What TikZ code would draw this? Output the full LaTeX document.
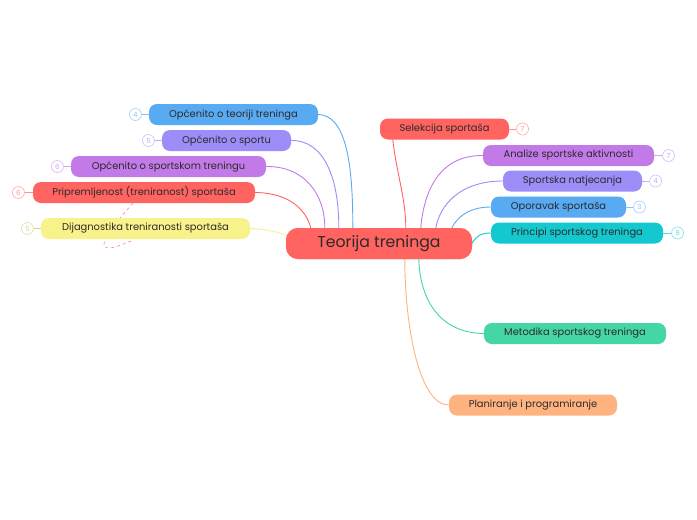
\documentclass[tikz,border=0pt]{standalone}
\usepackage{fontspec}
\setmainfont{Poppins}
\usepackage{xcolor}
\usetikzlibrary{positioning}

\definecolor{rootred}{HTML}{FF6461}
\definecolor{tblue}{HTML}{58AAF3}
\definecolor{tlav}{HTML}{9D8DF8}
\definecolor{tpurple}{HTML}{C27AE8}
\definecolor{tyellow}{HTML}{F8F28A}
\definecolor{tcyan}{HTML}{14C8CF}
\definecolor{tgreen}{HTML}{45D6A5}
\definecolor{torange}{HTML}{FFB380}
\definecolor{ttext}{HTML}{2B2B2B}

\begin{document}
\begin{tikzpicture}[x=1pt, y=-1pt,
            topic/.style={rectangle, rounded corners=8pt, minimum height=21pt, inner sep=0pt, text=ttext, font=\fontsize{9.9}{11}\selectfont},
            root/.style={rectangle, rounded corners=12pt, fill=rootred, minimum width=186pt, minimum height=31pt, text=ttext, font=\fontsize{15.7}{17}\selectfont},
            badge/.style={circle, draw=#1!50, fill=white, text=#1!70, line width=0.7pt, minimum size=12pt, inner sep=0pt, font=\fontsize{7}{8}\selectfont},
            link/.style={line width=0.9pt, #1},
            tick/.style={line width=0.9pt, #1!70}]

            \useasboundingbox[fill=white] (0,0) rectangle (697,520);

            % Root
            \node (root) [root] at (379,243.5) {Teorija treninga};

            % Left topics
            \node (teorija) [topic, fill=tblue, minimum width=169pt] at (233.5,114.5) {Općenito o teoriji treninga};
            \node (sport) [topic, fill=tlav, minimum width=129pt] at (226.5,140.5) {Općenito o sportu};
            \node (trening) [topic, fill=tpurple, minimum width=195pt] at (168.5,166.5) {Općenito o sportskom treningu};
            \node (priprem) [topic, fill=rootred, minimum width=222pt] at (144,192.5) {Pripremljenost (treniranost) sportaša};

            % dashed relation, behind the yellow topic
            \draw [rootred!80, dashed, line width=0.6pt] ([xshift=100pt]priprem.south west) .. controls (105,235) and (85,262) .. (133,240);

            \node (dijag) [topic, fill=tyellow, minimum width=209pt] at (145.5,228.5) {Dijagnostika treniranosti sportaša};

            % Right topics
            \node (selek) [topic, fill=rootred, minimum width=129pt] at (444.5,129) {Selekcija sportaša};
            \node (analize) [topic, fill=tpurple, minimum width=171pt] at (568.5,155.5) {Analize sportske aktivnosti};
            \node (natjec) [topic, fill=tlav, minimum width=139pt] at (572.5,181) {Sportska natjecanja};
            \node (oporavak) [topic, fill=tblue, minimum width=135pt] at (558.5,207) {Oporavak sportaša};
            \node (principi) [topic, fill=tcyan, minimum width=172pt] at (577,233) {Principi sportskog treninga};
            \node (metodika) [topic, fill=tgreen, minimum width=182pt] at (575,333.5) {Metodika sportskog treninga};
            \node (plan) [topic, fill=torange, minimum width=168pt] at (533,405) {Planiranje i programiranje};

            % Badges
            \node (b1) [badge=tblue, left=7pt of teorija] {4};
            \node (b2) [badge=tlav, left=7pt of sport] {5};
            \node (b3) [badge=tpurple, left=7pt of trening] {6};
            \node (b4) [badge=rootred, left=8pt of priprem] {6};
            \node (b5) [badge=tyellow!80!black, left=7pt of dijag] {5};
            \node (b6) [badge=rootred, right=7pt of selek] {7};
            \node (b7) [badge=tpurple, right=8pt of analize] {7};
            \node (b8) [badge=tlav, right=7pt of natjec] {4};
            \node (b9) [badge=tblue, right=7pt of oporavak] {3};
            \node (b10) [badge=tcyan, right=8pt of principi] {9};

            \draw [tick=tblue] (b1) -- (teorija);
            \draw [tick=tlav] (b2) -- (sport);
            \draw [tick=tpurple] (b3) -- (trening);
            \draw [tick=rootred] (b4) -- (priprem);
            \draw [tick=tyellow!80!black] (b5) -- (dijag);
            \draw [tick=rootred] (selek) -- (b6);
            \draw [tick=tpurple] (analize) -- (b7);
            \draw [tick=tlav] (natjec) -- (b8);
            \draw [tick=tblue] (oporavak) -- (b9);
            \draw [tick=tcyan] (principi) -- (b10);

            % Branches
            \draw [link=tblue] (teorija.east) .. controls (345,115) and (353,160) .. ([xshift=67pt]root.north west);
            \draw [link=tlav] (sport.east) .. controls (325,140) and (339,180) .. ([xshift=53pt]root.north west);
            \draw [link=tpurple] (trening.east) .. controls (305,166) and (325,195) .. ([xshift=39pt]root.north west);
            \draw [link=rootred] (priprem.east) .. controls (290,193) and (306,210) .. ([xshift=25pt]root.north west);
            \draw [link=tyellow] (dijag.east) .. controls (268,229) and (280,233) .. ([xshift=4pt, yshift=7pt]root.west);
            \draw [link=rootred] ([xshift=13pt]selek.south west) .. controls (396,170) and (406,200) .. ([xshift=120pt]root.north west);
            \draw [link=tpurple] (analize.west) .. controls (440,155) and (424,190) .. ([xshift=135pt]root.north west);
            \draw [link=tlav] (natjec.west) .. controls (460,181) and (440,205) .. ([xshift=150pt]root.north west);
            \draw [link=tblue] (oporavak.west) .. controls (470,207) and (458,216) .. ([xshift=166pt]root.north west);
            \draw [link=tcyan] (principi.west) .. controls (480,233) and (476,236) .. ([xshift=-3pt, yshift=-4pt]root.east);
            \draw [link=tgreen] (metodika.west) .. controls (440,333) and (420,300) .. ([xshift=133pt]root.south west);
            \draw [link=torange] (plan.west) .. controls (420,405) and (405,330) .. ([xshift=119pt]root.south west);

            % root again, over the branch ends
            \node [root] at (root) {Teorija treninga};
        \end{tikzpicture}
\end{document}
